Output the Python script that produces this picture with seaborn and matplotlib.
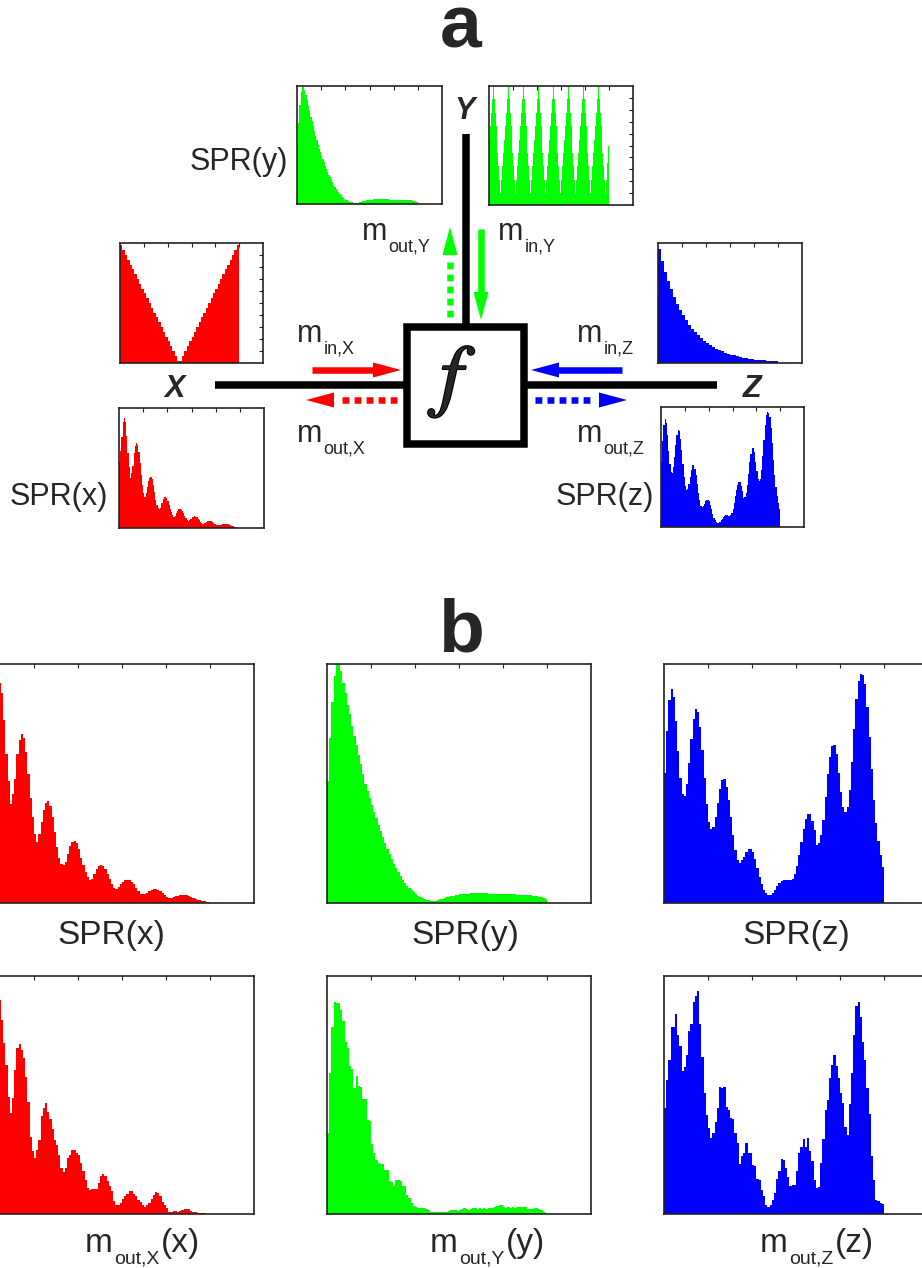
import numpy as np
import pandas as pd
import matplotlib
matplotlib.use('Agg')
import matplotlib.pyplot as plt
import matplotlib.patheffects as pe
import seaborn as sns
from matplotlib.patches import Rectangle, Polygon

sns.set_theme(style='white')
plt.rcParams['font.family'] = ['Liberation Sans', 'DejaVu Sans']

# ---------------- data (heights in % of axis height, bins over [0, 1]) ----------------
SPR_X = [55, 64, 76, 88,
         92, 88, 76.5, 62.5, 51, 41.6, 45.8, 52, 62.5, 68,
         70.7, 69, 63, 54, 44, 36, 29, 25.5, 29, 34,
         39, 42, 42.7, 40.5, 36, 29.7, 23.5, 19, 16.5, 15.8,
         17, 20.7, 24, 25.5, 25.8, 25, 22.8, 19, 15.8, 13,
         10.9, 9.5, 10, 12.3, 14.4, 15.5, 15.8, 15.4, 14.4, 12.3,
         10, 8, 6.3, 6, 6.7, 7.8, 8.8, 9.5, 9.8, 9.5,
         8.8, 7.8, 6.4, 5, 3.9, 3.6, 3.9, 4.3, 4.9, 5.6,
         5.9, 5.9, 5.6, 5, 4.3, 3.5, 2.5, 2.2, 2.2, 2.5,
         2.8, 3.1, 3.2, 3.5, 3.5, 3.4, 3.1, 2.5, 2.1, 1.7,
         1.4, 1.1, 0.8, 0.7, 0.4, 0.3]

MOUT_X = [52, 62, 75, 86,
          90, 81.7, 72, 62.6, 49, 42.6, 48.6, 60.5, 69.6, 71.4,
          68.9, 65.4, 57.7, 47.2, 32.5, 26.3, 23.5, 27, 31, 41,
          44.4, 46.8, 43, 39.8, 35.6, 30.9, 29, 24.9, 19.3, 17.5,
          19.3, 23.5, 25, 27, 27, 25.6, 24.9, 21.6, 17.9, 14.1,
          10.9, 10.2, 10.5, 10.5, 10.5, 13, 15.8, 16.9, 15.8, 13.7,
          11.6, 9.5, 5.3, 3.9, 3.9, 4.6, 6.3, 7.4, 8.4, 9.5,
          9.5, 8.4, 7.7, 6, 4.9, 3.9, 2.9, 3.9, 4.6, 6.3,
          8.1, 9.1, 8.8, 7.4, 5, 3.9, 2.5, 0.8, 1, 1.1,
          1.3, 1, 1.3, 1.5, 2.1, 2.2, 2.1, 1.4, 1, 0.7,
          0.6, 0.4, 0.4, 0.3, 0.2, 0.2]

SPR_Y = [51, 69, 84, 95, 100, 100, 97, 92, 88, 83,
         79, 74, 70, 66, 62, 58, 54, 50, 47, 44,
         41, 38, 35.5, 32.5, 30, 27.5, 25, 22.5, 20.5, 18.5,
         16.5, 14.5, 12.8, 11.2, 9.8, 8.5, 7.3, 6.3, 5.3, 4.5,
         3.7, 3.0, 2.5, 2.0, 1.6, 1.3, 1.1, 0.9, 0.9, 1.0,
         1.2, 1.5, 1.8, 2.1, 2.4, 2.7, 2.9, 3.1, 3.3, 3.5,
         3.6, 3.7, 3.8, 3.9, 3.9, 4.0, 4.0, 4.0, 4.0, 4.0,
         4.0, 4.0, 4.0, 3.9, 3.9, 3.9, 3.8, 3.8, 3.8, 3.8,
         3.7, 3.7, 3.7, 3.6, 3.6, 3.6, 3.5, 3.5, 3.5, 3.4,
         3.4, 3.3, 3.2, 3.1, 3.0, 2.9, 2.7, 2.4, 2.0, 1.5]

MOUT_Y = [34.2, 59.4, 78.4, 89.1, 88.7, 88.7, 85.9, 81.1, 72.3, 69.6,
          62.2, 60.8, 52.8, 58, 53.8, 53.5, 48.2, 48.2, 39.5, 39.2,
          29.5, 25.6, 22.5, 21.4, 20.9, 21.1, 18.6, 18.3, 13.7, 13.3,
          11.6, 14.1, 14.1, 13.8, 11.9, 11.9, 8.1, 6.7, 4.6, 3.5,
          2.9, 2.4, 2.4, 2.7, 2.4, 2.1, 1.5, 0.8, 0.7, 0.7,
          0.7, 1.0, 0.8, 0.7, 1.0, 1.1, 1.8, 1.5, 1.5, 1.3,
          1.8, 2.1, 2.4, 2.1, 1.8, 2.2, 2.4, 2.4, 2.1, 2.4,
          2.1, 2.4, 2.2, 2.5, 2.4, 2.7, 2.9, 3.2, 3.9, 3.8,
          2.9, 2.4, 2.8, 2.7, 2.9, 2.7, 2.9, 3.1, 2.9, 3.1,
          3.1, 2.1, 2.1, 2.1, 2.4, 2.4, 2.1, 1.5, 1.0, 0.4]

SPR_Z = [54.5, 72, 85, 89.7, 86.3, 76.3, 63.7, 52.5, 45.5, 44.7,
         49.7, 58.4, 68.6, 77, 81, 80, 73.7, 64, 52.5, 41.6,
         33.9, 31.1, 31.8, 36, 41.9, 47.5, 51.4, 51.8, 48.6, 43,
         36, 28.4, 22.1, 17.9, 16.9, 17.9, 19.3, 21.4, 22.8, 22.8,
         21.4, 18.6, 14.8, 10.9, 7.8, 5.6, 4.2, 3.5, 3.5, 4.2,
         5.6, 7, 8.4, 9.2, 9.8, 9.8, 9.5, 9.5, 10.2, 12,
         15.4, 20, 25.6, 31.1, 35.3, 37.4, 37.2, 34.4, 30.4, 24.2,
         24.9, 28.4, 34.6, 44.4, 53.9, 61.2, 65.6, 65.9, 62.3, 54.2,
         46.5, 40.2, 38.1, 40.2, 47.2, 59.1, 72.6, 85.2, 93, 95.8,
         95.4, 91.6, 82.1, 69.6, 55.9, 43.3, 33.5, 26, 20, 15.1]

MOUT_Z = [44.4, 56.3, 64.7, 78.4, 78.4, 83.9, 75.1, 70.5, 60.2, 61.9,
          66.8, 77, 80, 89, 91.5, 93.6, 80, 65.8, 51, 41.6,
          36, 31.8, 33.9, 38.8, 44.4, 53.5, 52.8, 53.2, 45.1, 43.7,
          40.2, 39.8, 33.9, 29.7, 20.9, 24.2, 25.8, 30, 25.8, 25.6,
          20.4, 20.3, 14.7, 14.4, 10.2, 7.4, 3.9, 2.9, 3.9, 6,
          8.8, 14.7, 17.9, 23, 22.8, 19.3, 15.5, 11.9, 12.3, 12.3,
          17.9, 25.8, 28.1, 31.4, 28.1, 31.8, 26.3, 22.1, 14.1, 10.9,
          11.3, 21.6, 31.4, 43.7, 47.9, 57, 62.6, 66.8, 62.2, 57,
          50.7, 46.5, 36.7, 33.2, 46.2, 59.4, 75.1, 87.3, 89.1, 82.8,
          72.3, 64.7, 52.8, 42, 24.2, 14.1, 6, 5.6, 4.6, 4.3]

IN_X = [98, 94, 90, 86, 82, 78, 74, 70, 66, 62, 58, 54, 50, 46, 42, 38, 34, 30, 26, 22,
        18, 14, 10, 6, 2, 2, 6, 10, 14, 18, 22, 26, 30, 34, 38, 42, 46, 50, 54, 58,
        62, 66, 70, 74, 78, 82, 86, 90, 94, 98]

IN_Y = [55, 66, 77.5, 89, 100, 89, 77.5, 66, 55, 44, 32.5, 21, 10, 21, 32.5, 44,
        55, 66, 77.5, 89, 100, 89, 77.5, 66, 55, 44, 32.5, 21, 10, 21, 32.5, 44,
        55, 66, 77.5, 89, 100, 89, 77.5, 66, 55, 44, 32.5, 21, 10, 21, 32.5, 44,
        55, 66, 77.5, 89, 100, 89, 77.5, 66, 55, 44, 32.5, 21, 10, 21, 32.5, 44,
        55, 66, 77.5, 89, 100, 89, 77.5, 66, 55, 44, 32.5, 21, 10, 21, 32.5, 44,
        55, 66, 77.5, 89, 100, 89, 77.5, 66, 55, 44, 32.5, 21, 10, 21, 32.5, 44,
        55, 66, 77.5, 89, 100, 89, 77.5, 66, 55, 44, 32.5, 21, 10, 21, 32.5, 44,
        55, 66, 77.5, 89, 100, 89, 77.5, 66, 55, 44, 32.5, 21, 10, 21, 35, 50]

IN_Z = [94.7, 85, 76.2, 68.4, 61.3, 55, 49.3, 44.3, 39.7, 35.6,
        31.9, 28.7, 25.7, 23.1, 20.7, 18.5, 16.6, 14.9, 13.4, 12,
        10.8, 9.7, 8.7, 7.8, 7, 6.3, 5.6, 5, 4.5, 4.1,
        3.6, 3.3, 2.9, 2.6, 2.4, 2.1, 1.9, 1.7, 1.5, 1.4]

RED, GREEN, BLUE = '#ff0000', '#00ff00', '#0000ff'
SPINE = '#222222'

W, H = 922, 1268
fig = plt.figure(figsize=(W / 100, H / 100), dpi=100)
fig.patch.set_facecolor('white')


def px_axes(left, top, width, height, z=2):
    return fig.add_axes([left / W, 1 - (top + height) / H, width / W, height / H], zorder=z)


def hist(ax, values, color, yticks_right=False):
    n = len(values)
    centers = (np.arange(n) + 0.5) / n
    df = pd.DataFrame({'x': centers, 'w': np.asarray(values, dtype=float)})
    sns.histplot(data=df, x='x', weights='w', bins=n, binrange=(0, 1), element='step',
                 fill=True, color=color, alpha=1, linewidth=0, ax=ax)
    ax.set_xlim(0, 1.2)
    ax.set_ylim(0, 100)
    ax.set_xlabel('')
    ax.set_ylabel('')
    ax.set_facecolor('white')
    ax.set_xticks([0.2, 0.4, 0.6, 0.8, 1.0])
    ax.tick_params(axis='x', direction='in', top=True, bottom=False,
                   labeltop=False, labelbottom=False, length=3, width=0.8, color=SPINE)
    if yticks_right:
        ax.set_yticks(np.arange(10, 100, 10))
        ax.tick_params(axis='y', direction='in', right=True, left=False,
                       labelleft=False, labelright=False, length=3, width=0.8, color=SPINE)
    else:
        ax.set_yticks([])
    for s in ax.spines.values():
        s.set_visible(True)
        s.set_color(SPINE)
        s.set_linewidth(1.2)
    ax.grid(False)


# ---------------- overlay for diagram ----------------
ov = fig.add_axes([0, 0, 1, 1], zorder=1)
ov.set_xlim(0, W)
ov.set_ylim(H, 0)
ov.axis('off')
renderer = fig.canvas.get_renderer()

LW = 0.72  # px -> pt


def solid_arrow(x0, y0, x1, y1, color, dotted=False, shaft=6.5, head_len=28, head_hw=7.5):
    d = np.array([x1 - x0, y1 - y0], dtype=float)
    u = d / np.hypot(*d)
    nrm = np.array([-u[1], u[0]])
    tip = np.array([x1, y1], dtype=float)
    base = tip - u * head_len
    if dotted:
        start = np.array([x0, y0], dtype=float)
        end = base - u * 4
        ln, = ov.plot([start[0], end[0]], [start[1], end[1]], color=color, lw=shaft * LW,
                      solid_capstyle='butt', dash_capstyle='butt')
        ln.set_dashes((1.05, 0.8))
    else:
        ov.plot([x0, base[0] + u[0] * 2], [y0, base[1] + u[1] * 2], color=color,
                lw=shaft * LW, solid_capstyle='butt')
    ov.add_patch(Polygon([tip, base + nrm * head_hw, base - nrm * head_hw], closed=True,
                         facecolor=color, edgecolor='none'))


# black connector lines
ov.plot([215, 404], [384.5, 384.5], color='black', lw=7.5 * LW, solid_capstyle='butt')
ov.plot([527, 717], [384.5, 384.5], color='black', lw=7.5 * LW, solid_capstyle='butt')
ov.plot([466, 466], [134, 324], color='black', lw=7.5 * LW, solid_capstyle='butt')
ov.add_patch(Rectangle((406.75, 326.75), 117.5, 117.5, facecolor='white',
                       edgecolor='black', lw=7.5 * LW))
ov.text(464, 401, r'$f$', math_fontfamily='stix', fontsize=58, ha='center', va='baseline',
        path_effects=[pe.withStroke(linewidth=1.6, foreground='black')])

# arrows
solid_arrow(312, 370, 401, 370, RED)
solid_arrow(397, 400, 306, 400, RED, dotted=True)
solid_arrow(622, 370, 531, 370, BLUE)
solid_arrow(535, 400, 627, 400, BLUE, dotted=True)
solid_arrow(450, 317, 450, 227, GREEN, dotted=True)
solid_arrow(481, 229, 481, 320, GREEN)

# axis letters
for txt, x, y in [('X', 175, 397), ('Y', 465, 119), ('Z', 752, 397)]:
    ov.text(x, y, txt, fontsize=22, fontweight='bold', style='italic', ha='center', va='baseline')


def msub(x, y, sub, suffix='', size=22, subsize=13, drop=12):
    t = ov.text(x, y, 'm', fontsize=size, ha='left', va='baseline')
    w = t.get_window_extent(renderer).width
    t2 = ov.text(x + w + 1, y + drop, sub, fontsize=subsize, ha='left', va='baseline')
    w2 = t2.get_window_extent(renderer).width
    if suffix:
        ov.text(x + w + w2 + 3, y, suffix, fontsize=size, ha='left', va='baseline')


msub(297, 342, 'in,X')
msub(297, 442, 'out,X')
msub(577, 342, 'in,Z')
msub(577, 442, 'out,Z')
msub(362, 240, 'out,Y')
msub(498, 240, 'in,Y')

ov.text(239, 170, 'SPR(y)', fontsize=22, ha='center', va='baseline')
ov.text(59, 505, 'SPR(x)', fontsize=22, ha='center', va='baseline')
ov.text(605, 505, 'SPR(z)', fontsize=22, ha='center', va='baseline')

ov.text(461, 47, 'a', fontsize=54, fontweight='bold', ha='center', va='baseline')
ov.text(461, 651, 'b', fontsize=54, fontweight='bold', ha='center', va='baseline')

# panel b labels
ov.text(111, 944, 'SPR(x)', fontsize=24, ha='center', va='baseline')
ov.text(465, 944, 'SPR(y)', fontsize=24, ha='center', va='baseline')
ov.text(796, 944, 'SPR(z)', fontsize=24, ha='center', va='baseline')
msub(85, 1252, 'out,X', '(x)', size=24, subsize=14, drop=11)
msub(430, 1252, 'out,Y', '(y)', size=24, subsize=14, drop=11)
msub(760, 1252, 'out,Z', '(z)', size=24, subsize=14, drop=11)

# ---------------- panel a insets ----------------
hist(px_axes(297, 86, 145, 118), SPR_Y, GREEN)
hist(px_axes(489, 86, 144, 119), IN_Y, GREEN, yticks_right=True)
hist(px_axes(120, 243, 143, 120), IN_X, RED, yticks_right=True)
hist(px_axes(658, 243, 144, 120), IN_Z, BLUE)
hist(px_axes(119, 408, 145, 120), SPR_X, RED)
hist(px_axes(661, 407, 143, 120), SPR_Z, BLUE)

# ---------------- panel b ----------------
hist(px_axes(-10, 664, 264, 239), SPR_X, RED)
hist(px_axes(327, 664, 264, 239), SPR_Y, GREEN)
hist(px_axes(664, 664, 264, 239), SPR_Z, BLUE)
hist(px_axes(-10, 976, 264, 238), MOUT_X, RED)
hist(px_axes(327, 976, 264, 238), MOUT_Y, GREEN)
hist(px_axes(664, 976, 264, 238), MOUT_Z, BLUE)

fig.savefig('out.png', dpi=100, facecolor='white')
